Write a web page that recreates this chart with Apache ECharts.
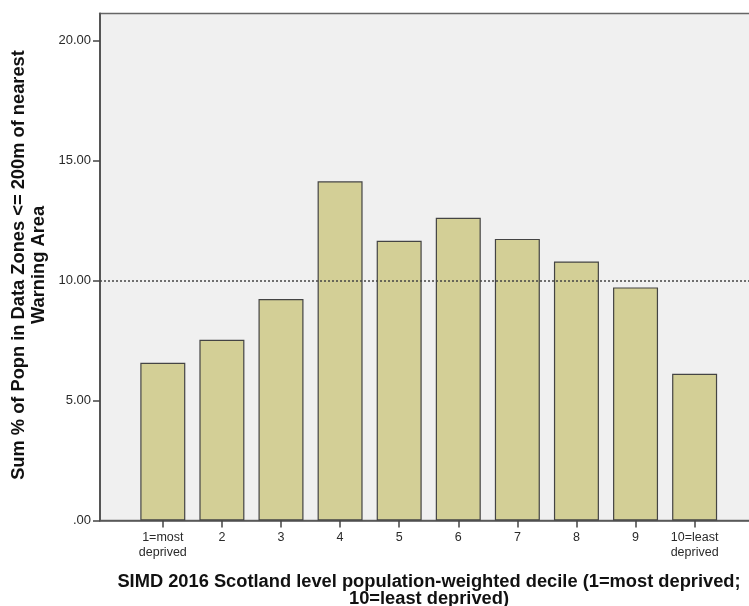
<!DOCTYPE html>
<html>
<head>
<meta charset="utf-8">
<script src="https://cdn.jsdelivr.net/npm/echarts@6/dist/echarts.min.js"></script>
<style>
html,body{margin:0;padding:0;background:#fff;}
#chart{width:749px;height:606px;}
</style>
</head>
<body>
<div id="chart"></div>
<script>
const categories = ['1=most\ndeprived','2','3','4','5','6','7','8','9','10=least\ndeprived'];
const categoryPositions = [1,2,3,4,5,6,7,8,9,10];
const values = [6.57, 7.53, 9.23, 14.13, 11.65, 12.61, 11.73, 10.79, 9.71, 6.11];
const yTicks = [0, 5, 10, 15, 20];
const referenceLine = [10];
const xTitle = 'SIMD 2016 Scotland level population-weighted decile (1=most deprived;\n10=least deprived)';
const yTitle = 'Sum % of Popn in Data Zones <= 200m of nearest\nWarning Area';

const FONT = '"Liberation Sans", Arial, sans-serif';
const chart = echarts.init(document.getElementById('chart'), null, {renderer: 'canvas'});

const option = {
  animation: false,
  backgroundColor: '#ffffff',
  grid: {
    left: 100, top: 13.5, right: -2, bottom: 85.5,
    outerBoundsMode: 'none',
    containLabel: false,
    show: true, backgroundColor: '#f0f0f0', borderColor: '#666', borderWidth: 1.5
  },
  xAxis: {
    type: 'value',
    min: -0.063, max: 10.954,
    splitLine: {show: false},
    axisLine: {show: true, onZero: false, lineStyle: {color: '#555', width: 1.5}},
    axisTick: {show: true, customValues: categoryPositions, length: 7, lineStyle: {color: '#444', width: 1.5}},
    axisLabel: {
      customValues: categoryPositions,
      margin: 10,
      fontFamily: FONT, fontSize: 12.5, color: '#2a2a2a', lineHeight: 15,
      formatter: function (v) { return categories[Math.round(v) - 1] || ''; }
    },
    name: xTitle,
    nameLocation: 'middle',
    nameGap: 53,
    nameTextStyle: {fontFamily: FONT, fontSize: 18.3, fontWeight: 'bold', color: '#111', lineHeight: 17, padding: [0, 0, 0, 7]}
  },
  yAxis: {
    type: 'value',
    min: 0, max: 21.12, interval: 5,
    splitLine: {show: false},
    axisLine: {show: true, onZero: false, lineStyle: {color: '#555', width: 2}},
    axisTick: {show: true, customValues: yTicks, length: 7, lineStyle: {color: '#444', width: 1.5}},
    axisLabel: {
      customValues: yTicks,
      margin: 9,
      fontFamily: FONT, fontSize: 13, color: '#2a2a2a',
      formatter: function (v) { return v === 0 ? '.00' : v.toFixed(2); }
    }
  },
  graphic: [{
    type: 'text',
    x: 28.5, y: 265,
    rotation: Math.PI / 2,
    style: {
      text: yTitle,
      font: 'bold 18.3px ' + FONT,
      fill: '#111',
      align: 'center',
      verticalAlign: 'middle',
      lineHeight: 20
    }
  }],
  series: [{
    type: 'bar',
    barWidth: 45,
    data: categoryPositions.map(function (x, i) { return [x, values[i]]; }),
    itemStyle: {color: '#d3cf96', borderColor: '#444', borderWidth: 1.2},
    markLine: {
      silent: true,
      symbol: ['none', 'none'],
      label: {show: false},
      lineStyle: {color: '#444', type: [2, 2], width: 1.5},
      data: referenceLine.map(function (v) { return {yAxis: v}; })
    }
  }]
};
chart.setOption(option);
</script>
</body>
</html>
